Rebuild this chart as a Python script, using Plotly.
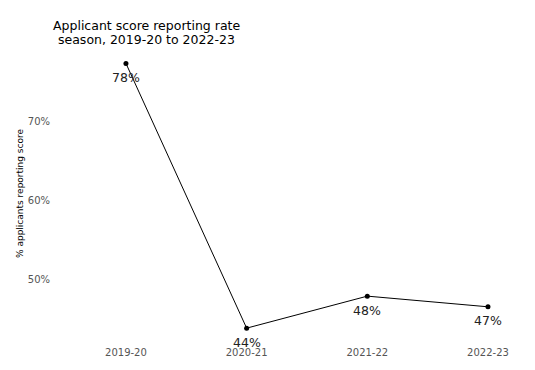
import plotly.graph_objects as go

seasons = ["2019-20", "2020-21", "2021-22", "2022-23"]
rates = [77.3, 43.8, 47.85, 46.5]
labels = ["78%", "44%", "48%", "47%"]
tick_vals = [50, 60, 70]
tick_text = ["50%", "60%", "70%"]
title_lines = ["Applicant score reporting rate", "season, 2019-20 to 2022-23"]

FONT = "DejaVu Sans"
W, H = 527, 362
L, R, T, B = 47, 20, 38, 25
PW, PH = W - L - R, H - T - B

fig = go.Figure()
fig.add_trace(go.Scatter(
    x=list(range(len(seasons))), y=rates,
    mode="lines+markers",
    line=dict(color="black", width=1),
    marker=dict(color="black", size=5),
    hoverinfo="skip",
))

annotations = [
    dict(x=i, y=v, text=t, xref="x", yref="y", showarrow=False,
         xanchor="center", yanchor="middle", yshift=-14,
         font=dict(family=FONT, size=12.5, color="#222222"))
    for i, (v, t) in enumerate(zip(rates, labels))
]
annotations.append(dict(
    text="% applicants reporting score",
    xref="paper", yref="paper",
    x=(12 - L) / PW, y=0.5,
    xanchor="center", yanchor="middle",
    textangle=-90, showarrow=False,
    font=dict(family=FONT, size=9, color="black"),
))
for k, (line, py) in enumerate(zip(title_lines, [17, 31])):
    annotations.append(dict(
        text=line, xref="paper", yref="paper",
        x=(138 - L) / PW, y=(H - B - py) / PH,
        xanchor="center", yanchor="middle", showarrow=False,
        font=dict(family=FONT, size=12.5, color="black"),
    ))

fig.update_layout(
    width=W, height=H,
    margin=dict(l=L, r=R, t=T, b=B),
    paper_bgcolor="white", plot_bgcolor="white",
    showlegend=False,
    font=dict(family=FONT),
    xaxis=dict(
        range=[-0.588, 3.224],
        tickvals=list(range(len(seasons))), ticktext=seasons,
        showgrid=False, zeroline=False, showline=False, ticks="",
        ticklabelstandoff=5,
        tickfont=dict(family=FONT, size=10, color="#555555"),
    ),
    yaxis=dict(
        range=[42.3, 79.5],
        tickvals=tick_vals, ticktext=tick_text,
        showgrid=False, zeroline=False, showline=False, ticks="",
        ticklabelstandoff=4,
        tickfont=dict(family=FONT, size=10, color="#555555"),
    ),
    annotations=annotations,
)

fig.write_html("out.html")
